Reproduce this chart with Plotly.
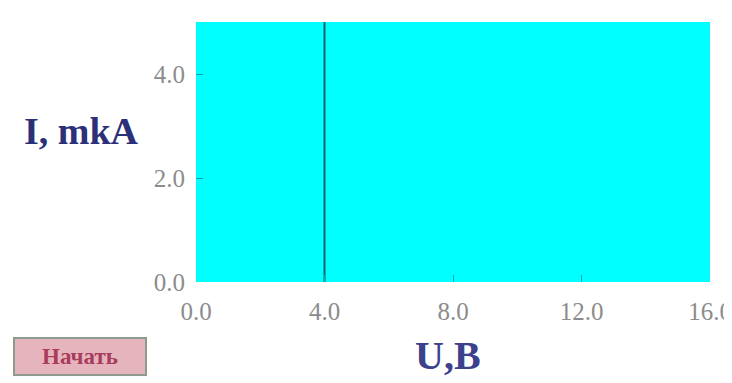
import plotly.graph_objects as go

# Data
u_values = [4.0, 4.0]
i_values = [0.0, 5.0]
x_ticks = [0.0, 4.0, 8.0, 12.0, 16.0]
x_tick_labels = ["0.0", "4.0", "8.0", "12.0", "16.0"]
y_ticks = [0.0, 2.0, 4.0]
y_tick_labels = ["0.0", "2.0", "4.0"]

# page layout (page pixels); the html body has an 8px margin
OFF = 8
W, H = 732 - OFF, 383 - OFF
PL, PR, PT, PB = 196, 710, 22, 282  # plot area in page pixels

def px(x):
    return (x - PL) / (PR - PL)

def py(y):
    return (PB - y) / (PB - PT)

fig = go.Figure()
fig.add_trace(go.Scatter(x=u_values, y=i_values, mode="lines",
                         line=dict(color="#0e6464", width=2), showlegend=False))

tickfont = dict(family="Liberation Serif", size=25, color="#8c8c8c")

fig.update_layout(
    width=W, height=H,
    margin=dict(l=PL - OFF, r=732 - PR, t=PT - OFF, b=383 - PB),
    paper_bgcolor="white",
    plot_bgcolor="#00ffff",
    xaxis=dict(range=[0, 16], tickvals=x_ticks, ticktext=x_tick_labels,
               showgrid=False, zeroline=False, ticks="inside", ticklen=7,
               tickcolor="#10a8a8", showline=False, ticklabelstandoff=12,
               automargin=False, tickfont=tickfont),
    yaxis=dict(range=[0, 5.0], tickvals=y_ticks, ticktext=y_tick_labels,
               showgrid=False, zeroline=False, ticks="inside", ticklen=7,
               tickcolor="#10a8a8", showline=False, ticklabelstandoff=10,
               automargin=False, tickfont=tickfont),
    annotations=[
        dict(text="<b>I, mkA</b>", x=px(81), y=py(131), xref="paper", yref="paper",
             xanchor="center", yanchor="middle",
             showarrow=False, font=dict(family="Liberation Serif", size=38, color="#2c3078")),
        dict(text="<b>U,B</b>", x=px(448), y=py(356), xref="paper", yref="paper",
             xanchor="center", yanchor="middle",
             showarrow=False, font=dict(family="Liberation Serif", size=40, color="#3c418c")),
        dict(text="<b>Начать</b>", x=px(80), y=py(357), xref="paper", yref="paper",
             xanchor="center", yanchor="middle",
             showarrow=False, bgcolor="#e6b4bc", bordercolor="#8e9a8e", borderwidth=2,
             borderpad=4, width=122, height=27,
             font=dict(family="Liberation Serif", size=23, color="#a83c5c")),
    ],
)

fig.write_html("out.html")
